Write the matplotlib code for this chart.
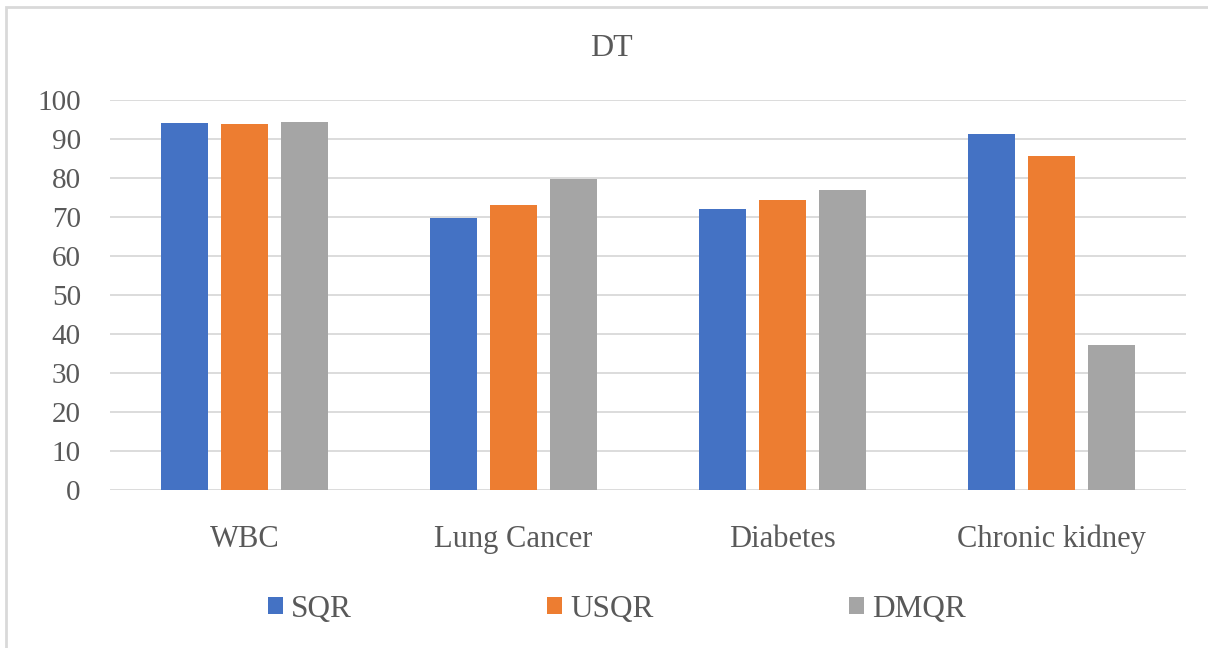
import matplotlib.pyplot as plt
import numpy as np
from matplotlib.patches import Rectangle

plt.rcParams['font.family'] = ['Liberation Serif', 'DejaVu Serif']

categories = ['WBC', 'Lung Cancer', 'Diabetes', 'Chronic kidney']
sqr = [94.0, 69.7, 72.0, 91.3]
usqr = [93.8, 73.0, 74.4, 85.6]
dmqr = [94.4, 79.8, 77.0, 37.2]
series_names = ['SQR', 'USQR', 'DMQR']
colors = ['#4472C4', '#ED7D31', '#A5A5A5']
text_col = '#595959'

fig = plt.figure(figsize=(12.08, 6.48), dpi=100)
ax = fig.add_axes([110/1208, 1 - 490/648, 1076/1208, 390/648])

x = np.arange(len(categories))
w = 0.175
step = 0.223
for i, (vals, name, c) in enumerate(zip([sqr, usqr, dmqr], series_names, colors)):
    ax.bar(x + (i - 1) * step, vals, width=w, color=c, label=name, zorder=3)

ax.set_xlim(-0.5, len(categories) - 0.5)
ax.set_ylim(0, 100)
ax.set_yticks(range(0, 101, 10))
ax.yaxis.grid(True, color='#d9d9d9', linewidth=1.3, zorder=0)
ax.set_axisbelow(True)
for s in ax.spines.values():
    s.set_visible(False)
ax.set_xticks(x)
ax.set_xticklabels(categories)
ax.tick_params(axis='both', length=0, colors=text_col)
ax.tick_params(axis='x', pad=25, labelsize=22)
ax.tick_params(axis='y', pad=21, labelsize=21)

fig.text(611/1208, 1 - 48/648, 'DT', ha='center', va='center', fontsize=23, color=text_col)

leg = fig.legend(loc='center', bbox_to_anchor=(617/1208, 1 - 609/648), ncol=3, frameon=False,
                 fontsize=22.5, handlelength=0.47, handleheight=0.47, handletextpad=0.26,
                 columnspacing=6.25, labelcolor=text_col)

# outer frame, open on the right and bottom edges
fig.add_artist(Rectangle((6/1208, -10/648), 1220/1208, 651/648, transform=fig.transFigure,
                         fill=False, edgecolor='#d9d9d9', linewidth=2))

fig.savefig('out.png', dpi=100)
